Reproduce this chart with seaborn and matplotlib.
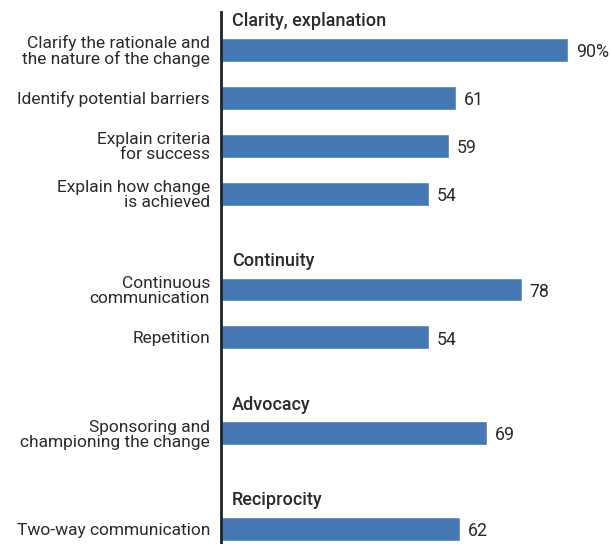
import numpy as np
import pandas as pd
import matplotlib
matplotlib.use("Agg")
import matplotlib.pyplot as plt
import seaborn as sns

# chart data
groups = ["Clarity, explanation", "Continuity", "Advocacy", "Reciprocity"]
group_sizes = [4, 2, 1, 1]
items = [
    "Clarify the rationale and\nthe nature of the change",
    "Identify potential barriers",
    "Explain criteria\nfor success",
    "Explain how change\nis achieved",
    "Continuous\ncommunication",
    "Repetition",
    "Sponsoring and\nchampioning the change",
    "Two-way communication",
]
values = [90, 61, 59, 54, 78, 54, 69, 62]

# slot positions: one empty slot between groups
group_idx = np.repeat(np.arange(len(groups)), group_sizes)
slots = np.arange(len(items)) + group_idx
group_first = np.array([slots[group_idx == g][0] for g in range(len(groups))])

df = pd.DataFrame({"item": items, "value": values, "slot": slots})

sns.set_theme(style="white")
plt.rcParams["font.family"] = ["Roboto", "DejaVu Sans"]

BLUE = "#4679b3"
TXT = "#2b2b2b"

fig = plt.figure(figsize=(6.11, 5.44), dpi=100)
ax = fig.add_axes([221 / 611, 0, 1 - 221 / 611, 1 - 12 / 544])

sns.barplot(data=df, x="value", y="slot", orient="h", native_scale=True,
            color=BLUE, saturation=1, width=0.5, ax=ax)

# value labels, a touch below bar centre like the original
for i, (v, s) in enumerate(zip(values, slots)):
    lab = f"{v}%" if i == 0 else str(v)
    ax.annotate(lab, xy=(v, s), xytext=(5.5, -1.5), textcoords="offset points",
                fontsize=12.8, color=TXT, ha="left", va="center")

for g, name in enumerate(groups):
    ax.text(2.9, group_first[g] - 0.6, name, fontsize=13, fontweight="medium",
            color=TXT, ha="left", va="center")

ax.set_xlim(0, 101.1)
ax.set_ylim(10.31, -0.79)
ax.set_yticks(slots)
ax.set_yticklabels(items, fontsize=12.5, color=TXT, ha="right",
                   multialignment="right", linespacing=1.0)
ax.tick_params(axis="y", length=0, pad=8)
ax.set_xticks([])
ax.set_xlabel("")
ax.set_ylabel("")
for s in ["top", "right", "bottom"]:
    ax.spines[s].set_visible(False)
ax.spines["left"].set_color("#222222")
ax.spines["left"].set_linewidth(2)

fig.savefig("out.png", dpi=100)
